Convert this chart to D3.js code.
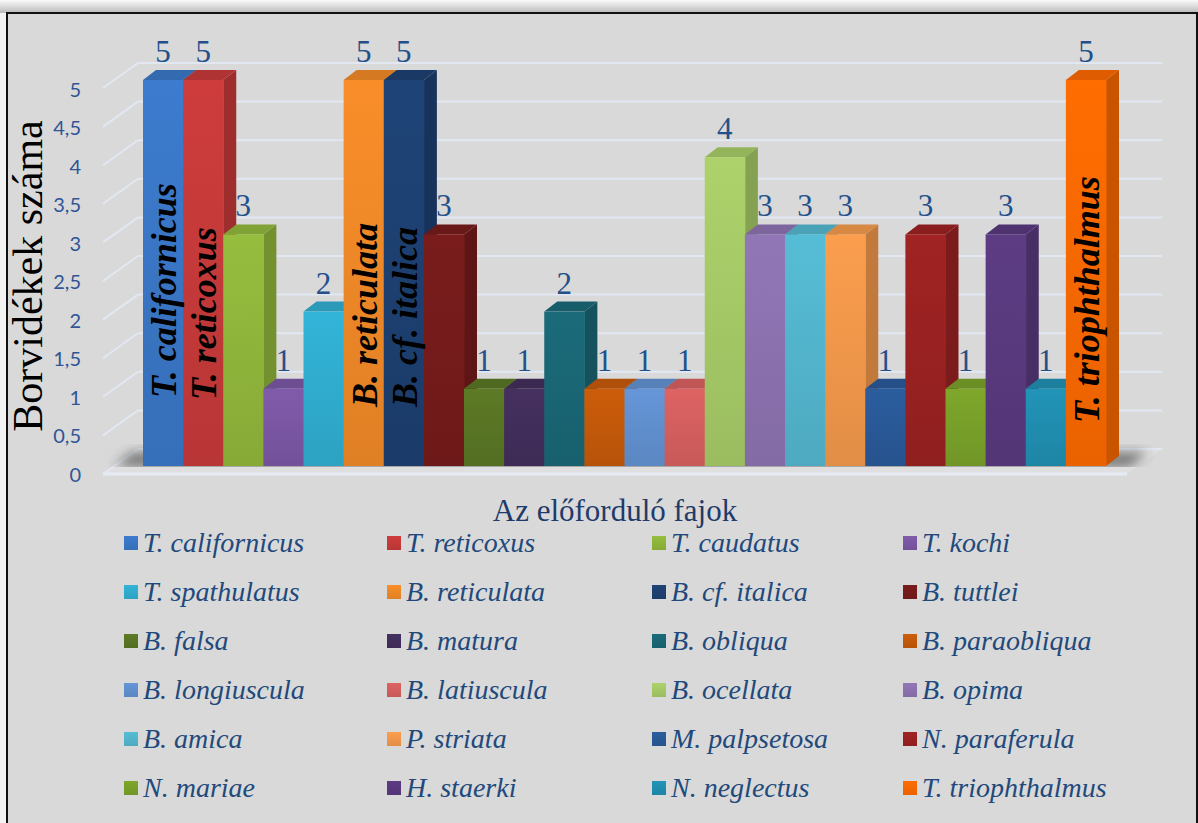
<!DOCTYPE html>
<html>
<head>
<meta charset="utf-8">
<script src="https://cdn.jsdelivr.net/npm/d3@7/dist/d3.min.js"></script>
<style>
  body { margin: 0; background: #f3f3f3; }
  svg { display: block; }
</style>
</head>
<body>
<div id="chart"></div>
<script>
// data
var species = ["T. californicus", "T. reticoxus", "T. caudatus", "T. kochi",
  "T. spathulatus", "B. reticulata", "B. cf. italica", "B. tuttlei",
  "B. falsa", "B. matura", "B. obliqua", "B. paraobliqua",
  "B. longiuscula", "B. latiuscula", "B. ocellata", "B. opima",
  "B. amica", "P. striata", "M. palpsetosa", "N. paraferula",
  "N. mariae", "H. staerki", "N. neglectus", "T. triophthalmus"];
var counts = [5, 5, 3, 1, 2, 5, 5, 3, 1, 1, 2, 1, 1, 1, 4, 3, 3, 3, 1, 3, 1, 3, 1, 5];
var barColors = ["#3a78c8", "#c83a3a", "#92b83c", "#7c58a6", "#31afd2", "#f28a28",
  "#1d4173", "#771b1b", "#5a7725", "#432f5c", "#1a6877", "#c65a0a",
  "#6292d2", "#d86060", "#a8cc68", "#8e74b2", "#54b8d0", "#f49a4c",
  "#2a5a9a", "#9c2222", "#7aa22a", "#5a3a80", "#2090b2", "#fd6a00"];
var yTicks = [0, 0.5, 1, 1.5, 2, 2.5, 3, 3.5, 4, 4.5, 5];
var namedBars = ["T. californicus", "T. reticoxus", "B. reticulata", "B. cf. italica", "T. triophthalmus"];
var xTitle = "Az előforduló fajok";
var yTitle = "Borvidékek száma";

var w = 1198, h = 823;
var depthX = 13, depthY = 10;        // bar depth
var wallX = 24, wallY = 17;          // back wall offset from bar fronts
var floorX = 11, floorY = 8;         // floor front edge offset
var insideLift = {"T. californicus": 68, "T. reticoxus": 66, "B. reticulata": 59,
  "B. cf. italica": 59, "T. triophthalmus": 43};
var legendCols = [124, 387, 652, 903];
var serif = "'Liberation Serif', 'Times New Roman', serif";

var huFormat = d3.formatLocale({decimal: ",", thousands: " ", grouping: [3], currency: ["", ""]}).format("~g");

var svg = d3.select("#chart").append("svg")
    .attr("width", w)
    .attr("height", h);

var defs = svg.append("defs");

var x = d3.scaleBand().domain(species).range([143, 1106]).padding(0);
var y = d3.scaleLinear().domain([0, 5]).range([466, 80]);
var yBack = d3.scaleLinear().domain([0, 5]).range([466 - wallY, 80 - wallY]);
var yTick = d3.scaleLinear().domain([0, 5]).range([475, 90]);

function shade(c, k) {
  var col = d3.rgb(c);
  return k < 1 ? col.darker((1 - k) * 2.2).formatHex() : col.brighter(k - 1).formatHex();
}

species.forEach(function(s, i) {
  var g = defs.append("linearGradient")
      .attr("id", "grad" + i)
      .attr("x1", 0).attr("y1", 0).attr("x2", 0).attr("y2", 1);
  g.append("stop").attr("offset", "0%").attr("stop-color", shade(barColors[i], 1.08));
  g.append("stop").attr("offset", "100%").attr("stop-color", shade(barColors[i], 0.9));
});

var blur = defs.append("filter").attr("id", "blur")
    .attr("x", "-20%").attr("y", "-50%").attr("width", "140%").attr("height", "200%");
blur.append("feGaussianBlur").attr("stdDeviation", 6);

defs.append("clipPath").attr("id", "floorclip")
    .append("rect").attr("x", 90).attr("y", 400).attr("width", 1100).attr("height", 67);

var topShade = defs.append("linearGradient").attr("id", "topshade")
    .attr("x1", 0).attr("y1", 0).attr("x2", 0).attr("y2", 1);
topShade.append("stop").attr("offset", "0%").attr("stop-color", "#fbfbfb");
topShade.append("stop").attr("offset", "100%").attr("stop-color", "#b9b9b9");

// frame
svg.append("rect").attr("x", 0).attr("y", 0).attr("width", w).attr("height", 13)
    .attr("fill", "url(#topshade)");
svg.append("rect")
    .attr("x", 7).attr("y", 13)
    .attr("width", 1190).attr("height", 830)
    .attr("fill", "#d9d9d9")
    .attr("stroke", "#111")
    .attr("stroke-width", 2);

// floor
var fl = 103, fr = 1127;
svg.append("polygon")
    .attr("points", [[fl, 474], [fr, 474], [fr + wallX + floorX, 449], [fl + wallX + floorX, 449]].join(" "))
    .attr("fill", "#dfdfdf");
svg.append("line")
    .attr("x1", fl).attr("x2", fr).attr("y1", 474).attr("y2", 474)
    .attr("stroke", "#e6ebf3").attr("stroke-width", 3);

// grid on the back wall plus the short diagonals on the side
var grid = svg.append("g");
grid.selectAll("line.back")
    .data(yTicks)
    .enter()
    .append("line")
    .attr("class", "back")
    .attr("x1", fl + wallX + floorX).attr("x2", 1162)
    .attr("y1", function(d) { return yBack(d); })
    .attr("y2", function(d) { return yBack(d); })
    .style("stroke", "#e2e8f2")
    .style("stroke-width", 2);
grid.selectAll("line.side")
    .data(yTicks)
    .enter()
    .append("line")
    .attr("class", "side")
    .attr("x1", fl).attr("x2", fl + wallX + floorX)
    .attr("y1", function(d) { return yBack(d) + wallY + floorY; })
    .attr("y2", function(d) { return yBack(d); })
    .style("stroke", "#e2e8f2")
    .style("stroke-width", 2);

// shadow under the bars, only on the floor
svg.append("g").attr("clip-path", "url(#floorclip)")
  .append("polygon")
    .attr("points", [[114, 467], [1130, 467], [1148, 452], [132, 452]].join(" "))
    .attr("fill", "#333")
    .attr("opacity", 0.6)
    .attr("filter", "url(#blur)");

// bars
var bars = svg.append("g");
species.forEach(function(s, i) {
  var bx = x(s), bw = x.bandwidth(), yt = y(counts[i]), y0 = y(0);
  var g = bars.append("g");
  g.append("polygon")
      .attr("points", [[bx + bw, yt], [bx + bw + depthX, yt - depthY], [bx + bw + depthX, y0 - depthY], [bx + bw, y0]].join(" "))
      .attr("fill", shade(barColors[i], 0.7));
  g.append("polygon")
      .attr("points", [[bx, yt], [bx + depthX, yt - depthY], [bx + bw + depthX, yt - depthY], [bx + bw, yt]].join(" "))
      .attr("fill", shade(barColors[i], 0.84));
  g.append("rect")
      .attr("x", bx).attr("y", yt)
      .attr("width", bw + 0.5).attr("height", y0 - yt)
      .attr("fill", "url(#grad" + i + ")");
});

// names written inside some bars
svg.selectAll("text.inside")
    .data(namedBars)
    .enter()
    .append("text")
    .attr("class", "inside")
    .attr("transform", function(d) {
      var cx = x(d) + x.bandwidth() / 2 + 13;
      return "translate(" + cx + "," + (y(0) - insideLift[d]) + ") rotate(-90)";
    })
    .style("font-family", serif)
    .style("font-style", "italic")
    .style("font-weight", "bold")
    .style("font-size", "36px")
    .style("fill", "#000")
    .text(function(d) { return d; });

// value labels
svg.selectAll("text.val")
    .data(counts)
    .enter()
    .append("text")
    .attr("class", "val")
    .attr("x", function(d, i) { return x(species[i]) + x.bandwidth() / 2; })
    .attr("y", function(d) { return y(d) - 18; })
    .attr("text-anchor", "middle")
    .style("font-family", serif)
    .style("font-size", "31px")
    .style("fill", "#23508a")
    .text(function(d) { return d; });

// y axis labels
var axis = svg.append("g")
    .attr("transform", "translate(81,0)")
    .call(d3.axisLeft(yTick).tickValues(yTicks).tickSize(0).tickPadding(0).tickFormat(huFormat));
axis.select(".domain").remove();
axis.selectAll("text")
    .style("font-family", "Lato, 'Open Sans', sans-serif")
    .style("font-size", "20px")
    .style("fill", "#2f5597");

// titles
svg.append("text")
    .attr("transform", "translate(42,276) rotate(-90)")
    .attr("text-anchor", "middle")
    .style("font-family", serif)
    .style("font-size", "42px")
    .style("fill", "#000")
    .text(yTitle);

svg.append("text")
    .attr("x", 615).attr("y", 521)
    .attr("text-anchor", "middle")
    .style("font-family", serif)
    .style("font-size", "31px")
    .style("fill", "#1f3b6b")
    .text(xTitle);

// legend
var legend = svg.selectAll("g.leg")
    .data(species)
    .enter()
    .append("g")
    .attr("class", "leg")
    .attr("transform", function(d, i) {
      return "translate(" + legendCols[i % 4] + "," + (543 + Math.floor(i / 4) * 49) + ")";
    });
legend.append("rect")
    .attr("x", 0).attr("y", -7)
    .attr("width", 14).attr("height", 14)
    .attr("fill", function(d, i) { return "url(#grad" + i + ")"; });
legend.append("text")
    .attr("x", 19).attr("y", 9)
    .style("font-family", serif)
    .style("font-style", "italic")
    .style("font-size", "28px")
    .style("fill", "#22497c")
    .text(function(d) { return d; });
</script>
</body>
</html>
